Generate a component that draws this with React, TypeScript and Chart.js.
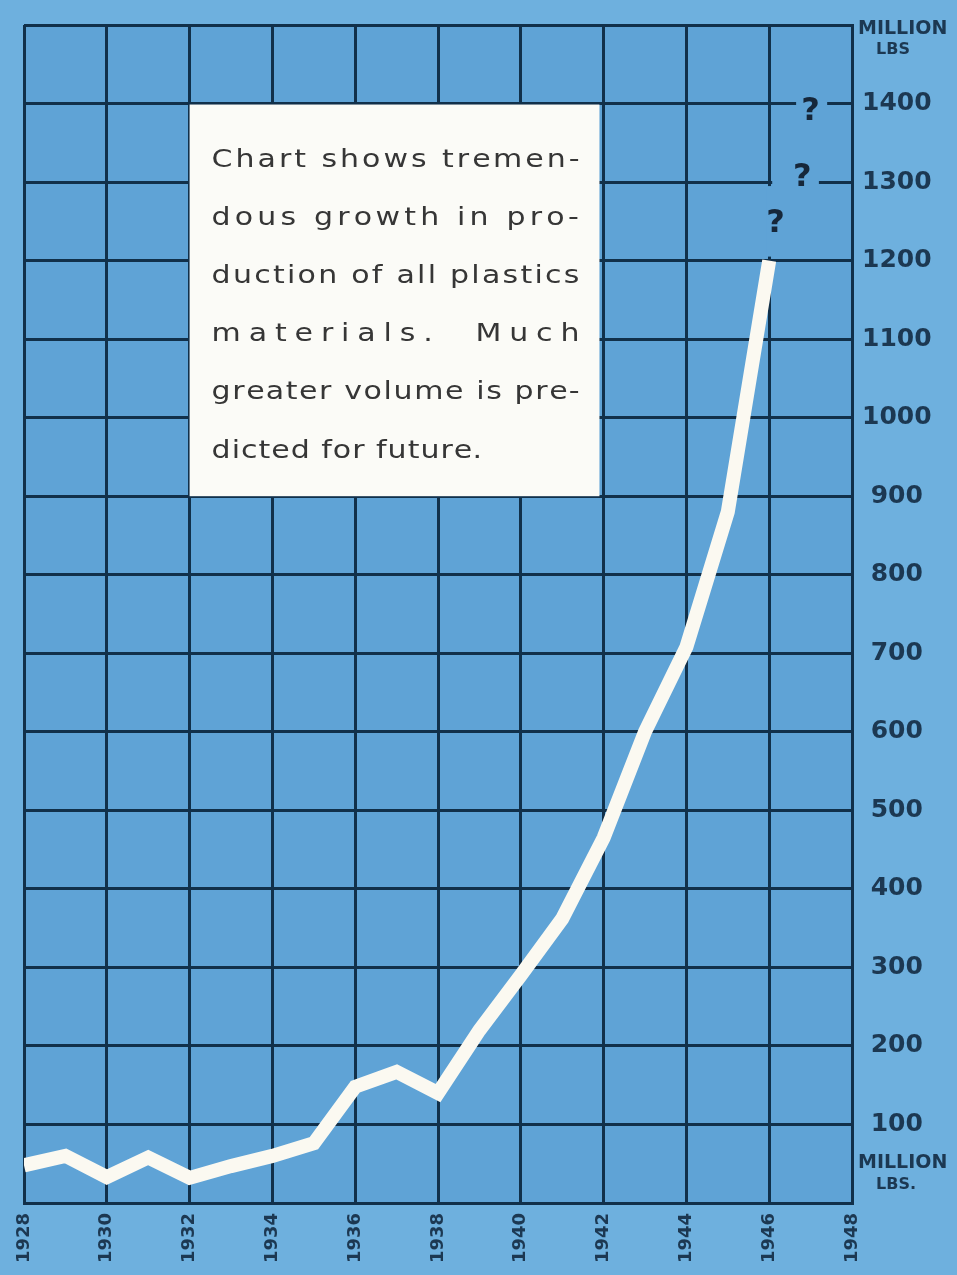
import React, { useEffect, useRef } from "react";
import { Chart, registerables } from "chart.js";

Chart.register(...registerables);

// ---- data ----
const years = [1928, 1929, 1930, 1931, 1932, 1933, 1934, 1935, 1936, 1937, 1938, 1939, 1940, 1941, 1942, 1943, 1944, 1945, 1946];
const production = [48, 60, 33, 58, 32, 47, 60, 76, 148, 167, 140, 220, 290, 362, 465, 600, 708, 880, 1200];
const xTickYears = [1928, 1930, 1932, 1934, 1936, 1938, 1940, 1942, 1944, 1946, 1948];
const yTickValues = [0, 100, 200, 300, 400, 500, 600, 700, 800, 900, 1000, 1100, 1200, 1300, 1400, 1500];
const noteLines = [
  "Chart shows tremen-",
  "dous growth in pro-",
  "duction of all plastics",
  "materials.  Much",
  "greater volume is pre-",
  "dicted for future.",
];
const predictionYears = [1947, 1946.8, 1946.15];
const predictionValues = [1400, 1300, 1250];
const unitTop = ["MILLION", "LBS"];
const unitBottom = ["MILLION", "LBS."];

// note box in data units
const noteBox = { x1: 1932, x2: 1941.9, y1: 1400, y2: 900 };

const OUTER = "#6eb0de";
const INNER = "#5fa3d6";
const GRID = "#11304a";
const LINE = "#fbf9f1";
const LABEL = "#1c3852";

const decorPlugin = {
  id: "decor",
  beforeDraw(chart: any) {
    const { ctx, chartArea: a, width, height } = chart;
    ctx.save();
    ctx.fillStyle = OUTER;
    ctx.fillRect(0, 0, width, height);
    ctx.fillStyle = INNER;
    ctx.fillRect(a.left, a.top, a.right - a.left, a.bottom - a.top);
    ctx.restore();
  },
  beforeDatasetsDraw(chart: any) {
    const { ctx } = chart;
    const xs = chart.scales.x;
    const ys = chart.scales.y;
    ctx.save();
    ctx.strokeStyle = INNER;
    ctx.lineWidth = 6;
    const vx = xs.getPixelForValue(1946);
    ctx.beginPath();
    ctx.moveTo(vx, ys.getPixelForValue(1300) + 4);
    ctx.lineTo(vx, ys.getPixelForValue(1200) - 4);
    ctx.stroke();
    const h13 = ys.getPixelForValue(1300);
    ctx.beginPath();
    ctx.moveTo(vx + 3, h13);
    ctx.lineTo(xs.getPixelForValue(1947.2), h13);
    ctx.stroke();
    const h14 = ys.getPixelForValue(1400);
    ctx.beginPath();
    ctx.moveTo(xs.getPixelForValue(1946.65), h14);
    ctx.lineTo(xs.getPixelForValue(1947.4), h14);
    ctx.stroke();
    ctx.restore();
  },
  afterDatasetsDraw(chart: any) {
    const { ctx, chartArea: a } = chart;
    const xs = chart.scales.x;
    const ys = chart.scales.y;
    ctx.save();
    const bx1 = xs.getPixelForValue(noteBox.x1);
    const bx2 = xs.getPixelForValue(noteBox.x2);
    const by1 = ys.getPixelForValue(noteBox.y1) + 1;
    const by2 = ys.getPixelForValue(noteBox.y2);
    ctx.fillStyle = "#fbfbf7";
    ctx.fillRect(bx1, by1, bx2 - bx1, by2 - by1);

    ctx.fillStyle = "#363636";
    ctx.font = "25px 'DejaVu Sans', sans-serif";
    ctx.textBaseline = "alphabetic";
    ctx.textAlign = "left";
    const sx = 1.2;
    const left = bx1 + 22;
    const right = bx2 - 20;
    const target = right - left;
    noteLines.forEach((line, i) => {
      const baseY = by1 + 62 + i * 58.2;
      let gap: number;
      if (i === noteLines.length - 1) {
        gap = 1;
      } else {
        const natural = ctx.measureText(line).width * sx;
        gap = (target - natural) / (line.length - 1);
      }
      for (let k = 0; k < line.length; k++) {
        const px = left + ctx.measureText(line.slice(0, k)).width * sx + k * gap;
        ctx.save();
        ctx.translate(px, baseY);
        ctx.scale(sx, 1);
        ctx.fillText(line[k], 0, 0);
        ctx.restore();
      }
    });

    ctx.fillStyle = "#16273a";
    ctx.font = "bold 32px 'DejaVu Sans', sans-serif";
    ctx.textAlign = "center";
    ctx.textBaseline = "middle";
    predictionYears.forEach((yr, i) => {
      const px = xs.getPixelForValue(yr);
      const py = ys.getPixelForValue(predictionValues[i]);
      ctx.fillText("?", px, py + (i === 0 ? 8 : i === 1 ? -4 : 2));
    });

    ctx.fillStyle = LABEL;
    ctx.textAlign = "left";
    ctx.textBaseline = "alphabetic";
    ctx.font = "bold 19px 'DejaVu Sans', sans-serif";
    ctx.fillText(unitTop[0], a.right + 6, a.top + 9);
    ctx.fillText(unitBottom[0], a.right + 6, a.bottom - 35);
    ctx.textAlign = "center";
    ctx.font = "bold 16px 'DejaVu Sans', sans-serif";
    ctx.fillText(unitTop[1], a.right + 41, a.top + 29);
    ctx.fillText(unitBottom[1], a.right + 44, a.bottom - 14);
    ctx.restore();
  },
};

export default function App() {
  const ref = useRef<HTMLCanvasElement | null>(null);
  useEffect(() => {
    if (!ref.current) return;
    const chart = new Chart(ref.current, {
      type: "line",
      data: {
        datasets: [
          {
            data: years.map((y, i) => ({ x: y, y: production[i] })),
            borderColor: LINE,
            borderWidth: 14,
            pointRadius: 0,
            tension: 0,
            borderJoinStyle: "miter",
            borderCapStyle: "butt",
            fill: false,
          },
        ],
      },
      options: {
        responsive: false,
        animation: false,
        devicePixelRatio: 1,
        layout: { padding: { left: 24, top: 24, right: 0, bottom: 0 } },
        plugins: { legend: { display: false }, tooltip: { enabled: false } },
        scales: {
          x: {
            type: "linear",
            min: 1928,
            max: 1948,
            afterBuildTicks: (s: any) => {
              s.ticks = xTickYears.map((v) => ({ value: v }));
            },
            afterFit: (s: any) => {
              s.height = 72;
            },
            grid: { color: GRID, lineWidth: 3, drawTicks: false },
            border: { display: true, color: GRID, width: 3 },
            ticks: {
              autoSkip: false,
              minRotation: 90,
              maxRotation: 90,
              padding: 10,
              color: LABEL,
              font: { family: "'DejaVu Sans', sans-serif", size: 18, weight: "bold" },
              callback: (v: any) => String(v),
            },
          },
          y: {
            type: "linear",
            position: "right",
            min: 0,
            max: 1500,
            afterBuildTicks: (s: any) => {
              s.ticks = yTickValues.map((v) => ({ value: v }));
            },
            afterFit: (s: any) => {
              s.width = 105;
            },
            grid: { color: GRID, lineWidth: 3, drawTicks: false },
            border: { display: true, color: GRID, width: 3 },
            ticks: {
              autoSkip: false,
              crossAlign: "center",
              padding: 10,
              color: LABEL,
              font: { family: "'DejaVu Sans', sans-serif", size: 25, weight: "bold" },
              callback: (v: any) => (v === 0 || v === 1500 ? "" : String(v)),
            },
          },
        },
      },
      plugins: [decorPlugin],
    } as any);
    return () => chart.destroy();
  }, []);
  return (
    <div style={{ position: "absolute", left: 0, top: 0, width: 957, height: 1275 }}>
      <canvas ref={ref} width={957} height={1275} style={{ width: 957, height: 1275, display: "block" }} />
    </div>
  );
}
